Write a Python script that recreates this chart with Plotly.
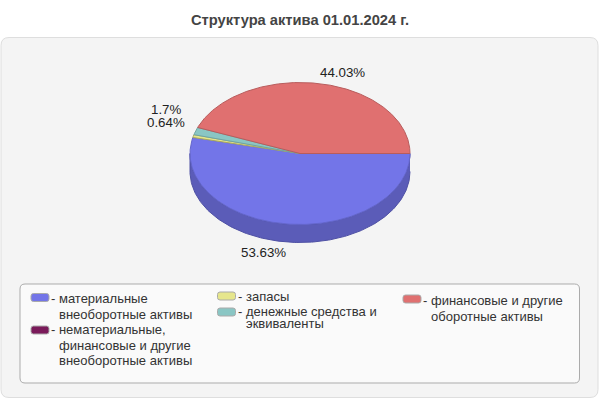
import numpy as np
import plotly.graph_objects as go

# Data
categories = ["материальные внеоборотные активы",
              "нематериальные, финансовые и другие внеоборотные активы",
              "запасы", "денежные средства и эквиваленты",
              "финансовые и другие оборотные активы"]
values = [53.63, 0.0, 0.64, 1.7, 44.03]
title_text = "Структура актива 01.01.2024 г."
value_labels = ["53.63%", "0.64%", "1.7%", "44.03%"]

# Styles and layout
slice_colors = ["#7375E8", "#7A1A5A", "#E6E68C", "#8AC6C4", "#E07070"]
edge_colors = ["#6466CC", "#6A1650", "#A8A860", "#6FA5A3", "#B85C5C"]
side_color = "#5B5CB8"
side_edge = "#4E50A4"
cx, cy, rx, ry, depth = 300.0, 153.5, 110.0, 71.0, 18.0
FONT = "Liberation Sans, Arial, sans-serif"


def rounded(x0, y0, x1, y1, r):
    return (f"M{x0+r},{y0} L{x1-r},{y0} Q{x1},{y0} {x1},{y0+r} L{x1},{y1-r} Q{x1},{y1} {x1-r},{y1} "
            f"L{x0+r},{y1} Q{x0},{y1} {x0},{y1-r} L{x0},{y0+r} Q{x0},{y0} {x0+r},{y0} Z")


fig = go.Figure()

# Side wall of the disc (front half)
t = np.radians(np.linspace(0, 180, 181))
sx = cx + rx * np.cos(t)
sy = cy + ry * np.sin(t)
fig.add_trace(go.Scatter(
    x=np.r_[sx, sx[::-1]], y=np.r_[sy + depth, sy[::-1]],
    mode="lines", fill="toself", fillcolor=side_color,
    line=dict(color=side_edge, width=1), hoverinfo="skip"))

# Top slices, clockwise on screen from the east
start = 0.0
for v, c, e in zip(values, slice_colors, edge_colors):
    if v > 0:
        a = np.radians(np.linspace(start, start + v * 3.6, max(3, int(v * 3.6 * 2))))
        fig.add_trace(go.Scatter(
            x=np.r_[cx, cx + rx * np.cos(a), cx], y=np.r_[cy, cy + ry * np.sin(a), cy],
            mode="lines", fill="toself", fillcolor=c,
            line=dict(color=e, width=1), hoverinfo="skip"))
    start += v * 3.6

shapes = [
    dict(type="path", path=rounded(1, 37.5, 598, 397.5, 8), fillcolor="#F4F4F4",
         line=dict(color="#DEDEDE", width=1), layer="below"),
    dict(type="path", path=rounded(20, 284, 579.5, 383, 5), fillcolor="#FAFAFA",
         line=dict(color="#ABABAB", width=1), layer="below"),
]
swatches = [(31, 293.5), (31, 326), (217.5, 292), (217.5, 308), (403, 295)]
for (sw_x, sw_y), c in zip(swatches, slice_colors):
    shapes.append(dict(type="path", path=rounded(sw_x, sw_y, sw_x + 18, sw_y + 8, 2.5),
                       fillcolor=c, line=dict(color="#AAAAAA", width=1), layer="above"))

annotations = [dict(x=300, y=20, text=f"<b>{title_text}</b>", showarrow=False,
                    font=dict(family=FONT, size=14.7, color="#444444"))]
label_pos = [(263, 252), (166, 122), (166, 109), (342, 72)]
for (lx, ly), s in zip(label_pos, value_labels):
    annotations.append(dict(x=lx, y=ly, text=s, showarrow=False,
                            font=dict(family=FONT, size=13.3, color="#222222")))

legend_lines = [
    (49, 298, "- материальные"), (57, 314, "внеоборотные активы"),
    (49, 329, "- нематериальные,"), (57, 345, "финансовые и другие"),
    (57, 360.5, "внеоборотные активы"),
    (235.5, 296, "- запасы"), (235.5, 311, "- денежные средства и"), (243.5, 323, "эквиваленты"),
    (421, 300, "- финансовые и другие"), (429, 316, "оборотные активы"),
]
for lx, ly, s in legend_lines:
    annotations.append(dict(x=lx, y=ly, text=s, showarrow=False, xanchor="left",
                            font=dict(family=FONT, size=13, color="#333333")))

fig.update_layout(
    width=600, height=400, margin=dict(l=0, r=0, t=0, b=0),
    paper_bgcolor="white", plot_bgcolor="rgba(0,0,0,0)", showlegend=False,
    xaxis=dict(range=[0, 600], visible=False, fixedrange=True),
    yaxis=dict(range=[400, 0], visible=False, fixedrange=True),
    shapes=shapes, annotations=annotations)

fig.write_html("out.html", config=dict(displayModeBar=False),
               post_script="document.body.style.margin='0';document.documentElement.style.overflow='hidden';")
